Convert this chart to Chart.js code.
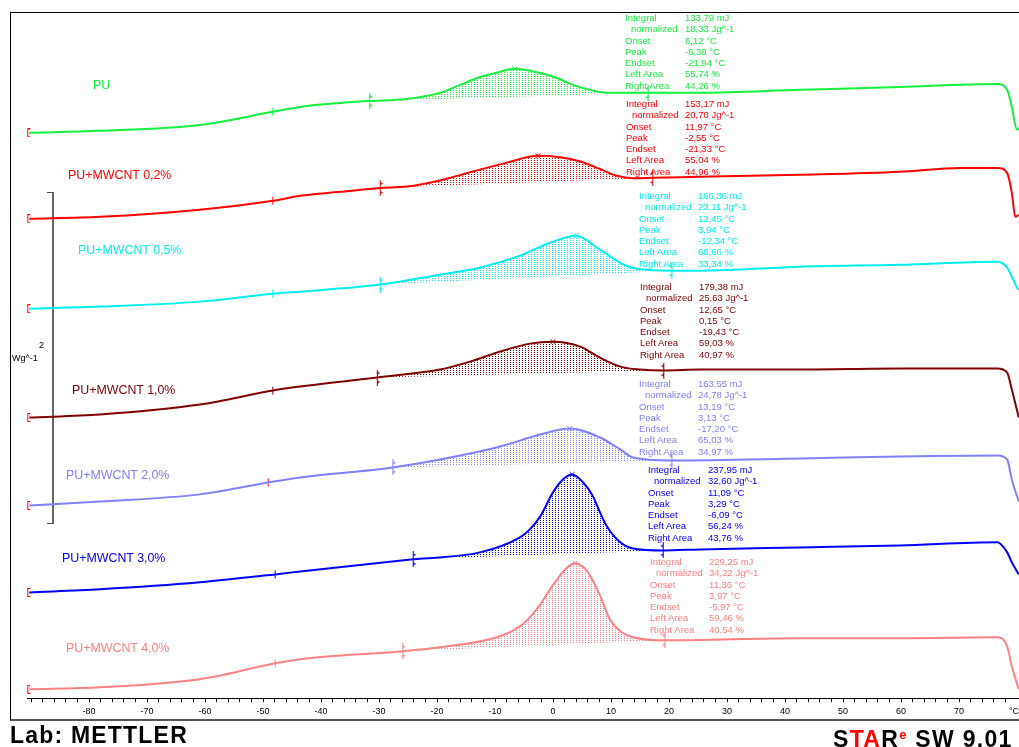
<!DOCTYPE html>
<html>
<head>
<meta charset="utf-8">
<script src="https://cdn.jsdelivr.net/npm/chart.js@4/dist/chart.umd.min.js"></script>
<style>
  body { margin: 0; background: #fff; width: 1019px; height: 747px; overflow: hidden; position: relative;
         font-family: "Liberation Sans", Arial, sans-serif; }
  #frame { position: absolute; left: 10px; top: 12px; width: 1015px; height: 706px;
           border-left: 1px solid #000; border-top: 1px solid #000; border-bottom: 2px solid #555; }
  #dsc { position: absolute; left: 0; top: 0; }
  .t { position: absolute; white-space: nowrap; }
  #scalebar { position: absolute; left: 47px; top: 192px; width: 5px; height: 330px;
              border-top: 1px solid #555; border-right: 2px solid #666; border-bottom: 1px solid #555; }
</style>
</head>
<body>
<div id="frame"></div>
<div id="scalebar"></div>
<canvas id="dsc" width="1019" height="747"></canvas>
<script>
'use strict';

// heat flow curves, [temperature °C, heat flow Wg^-1 incl. offset]
var pu = [[-90.3, 3.420], [-78.1, 3.432], [-60.9, 3.468], [-48.3, 3.547], [-43.6, 3.577], [-36.7, 3.601],
  [-31.6, 3.613], [-25.2, 3.625], [-19.5, 3.662], [-16.0, 3.710], [-12.6, 3.758], [-9.7, 3.784], [-6.6, 3.807],
  [-2.2, 3.782], [0.7, 3.752], [3.4, 3.710], [6.4, 3.680], [9.3, 3.663], [16.4, 3.662], [25.3, 3.662],
  [42.6, 3.680], [59.8, 3.698], [76.6, 3.716], [78.3, 3.680], [79.1, 3.577], [80.0, 3.438], [80.3, 3.450]];
var mw02 = [[-90.3, 2.900], [-78.1, 2.912], [-60.9, 2.955], [-48.3, 3.009], [-43.6, 3.039], [-36.7, 3.063],
  [-29.8, 3.086], [-25.2, 3.095], [-19.5, 3.132], [-13.8, 3.186], [-7.9, 3.240], [-2.6, 3.281], [1.2, 3.273],
  [4.7, 3.247], [8.1, 3.201], [11.0, 3.160], [13.8, 3.146], [17.2, 3.148], [25.3, 3.154], [42.6, 3.166],
  [59.8, 3.184], [70.2, 3.208], [76.6, 3.208], [78.3, 3.178], [79.1, 3.057], [79.7, 2.912], [80.3, 2.924]];
var mw05 = [[-90.3, 2.356], [-78.1, 2.369], [-60.9, 2.399], [-48.3, 2.447], [-43.6, 2.459], [-29.8, 2.502],
  [-19.5, 2.562], [-12.6, 2.604], [-5.7, 2.677], [-0.5, 2.755], [4.0, 2.798], [8.1, 2.713], [11.6, 2.634],
  [14.5, 2.598], [20.5, 2.586], [25.3, 2.586], [42.6, 2.610], [59.8, 2.622], [76.6, 2.640], [78.3, 2.604],
  [79.1, 2.550], [80.0, 2.483], [80.3, 2.471]];
var mw10 = [[-90.3, 1.698], [-78.1, 1.716], [-60.9, 1.776], [-48.3, 1.861], [-43.6, 1.885], [-30.3, 1.940],
  [-19.5, 1.988], [-14.3, 2.036], [-9.1, 2.097], [-4.0, 2.145], [0.0, 2.157], [4.7, 2.127], [8.1, 2.060],
  [11.6, 2.006], [15.0, 1.988], [19.1, 1.982], [25.3, 1.988], [42.6, 1.988], [59.8, 1.994], [76.6, 1.994],
  [78.3, 1.970], [79.1, 1.867], [80.3, 1.698]];
var mw20 = [[-90.3, 1.166], [-78.1, 1.190], [-60.9, 1.233], [-49.1, 1.305], [-43.6, 1.335], [-27.6, 1.396],
  [-19.5, 1.444], [-9.1, 1.523], [-2.2, 1.595], [2.9, 1.631], [8.1, 1.577], [11.6, 1.505], [13.8, 1.456],
  [20.5, 1.438], [42.6, 1.450], [59.8, 1.462], [76.6, 1.468], [78.3, 1.444], [79.1, 1.323], [80.3, 1.190]];
var mw30 = [[-90.3, 0.640], [-78.1, 0.659], [-60.9, 0.701], [-47.9, 0.749], [-43.6, 0.767], [-24.1, 0.840],
  [-12.6, 0.882], [-5.7, 0.973], [-4.0, 1.021], [-2.2, 1.100], [0.0, 1.245], [1.7, 1.323], [3.3, 1.353],
  [5.2, 1.305], [6.9, 1.221], [8.1, 1.124], [9.3, 1.039], [11.6, 0.943], [13.8, 0.906], [19.0, 0.894],
  [25.3, 0.900], [42.6, 0.912], [59.8, 0.924], [76.6, 0.943], [78.3, 0.882], [79.1, 0.822], [80.3, 0.749]];
var mw40 = [[-90.3, 0.054], [-78.1, 0.066], [-60.9, 0.115], [-47.9, 0.211], [-43.6, 0.236], [-25.9, 0.284],
  [-19.5, 0.308], [-9.1, 0.375], [-5.7, 0.435], [-4.0, 0.489], [-2.2, 0.568], [-0.5, 0.659], [2.1, 0.779],
  [3.8, 0.816], [5.9, 0.767], [8.1, 0.622], [9.8, 0.477], [11.6, 0.405], [13.8, 0.369], [19.3, 0.350],
  [42.6, 0.363], [59.8, 0.363], [76.6, 0.369], [78.3, 0.314], [79.1, 0.193], [80.3, 0.054]];

var curves = [pu, mw02, mw05, mw10, mw20, mw30, mw40];
var curveNames = ['PU', 'PU+MWCNT 0,2%', 'PU+MWCNT 0,5%', 'PU+MWCNT 1,0%', 'PU+MWCNT 2,0%', 'PU+MWCNT 3,0%', 'PU+MWCNT 4,0%'];
var curveColors = ['#14f03c', '#ff0000', '#00eeee', '#800000', '#8080ff', '#0000ff', '#ff8080'];

// integration limits, peaks and step marks (°C)
var limitLeft = [-31.6, -29.8, -29.8, -30.3, -27.6, -24.1, -25.9];
var limitRight = [16.4, 17.2, 20.5, 19.1, 20.5, 19.0, 19.3];
var peakAt = [-6.6, -2.6, 4.0, 0.0, 2.9, 3.3, 3.8];
var stepAt = [-48.3, -48.3, -48.3, -48.3, -49.1, -47.9, -47.9];

// evaluation results
var resultNames = ['Integral', 'normalized', 'Onset', 'Peak', 'Endset', 'Left Area', 'Right Area'];
var resultUnits = ['mJ', 'Jg^-1', '°C', '°C', '°C', '%', '%'];
var integral = ['133,79', '153,17', '166,36', '179,38', '163,55', '237,95', '229,25'];
var normalized = ['18,33', '20,70', '23,11', '25,63', '24,78', '32,60', '34,22'];
var onset = ['6,12', '11,97', '12,45', '12,65', '13,19', '11,09', '11,36'];
var peak = ['-6,39', '-2,55', '3,94', '0,15', '3,13', '3,29', '3,97'];
var endset = ['-21,94', '-21,33', '-12,34', '-19,43', '-17,20', '-6,09', '-5,97'];
var leftArea = ['55,74', '55,04', '66,66', '59,03', '65,03', '56,24', '59,46'];
var rightArea = ['44,26', '44,96', '33,34', '40,97', '34,97', '43,76', '40,54'];

var xLabels = [-80, -70, -60, -50, -40, -30, -20, -10, 0, 10, 20, 30, 40, 50, 60, 70];

// layout of the text blocks (px)
var namePos = [[93, 85], [68, 175], [78, 250], [72, 390], [66, 475], [62, 558], [66, 648]];
var boxPos = [[625, 685, 18], [626, 685, 104], [639, 698, 196], [640, 699, 287], [639, 698, 384], [648, 708, 470], [650, 709, 562]];

function valueAt(curve, t) {
  for (var i = 0; i < curve.length; i++) {
    if (curve[i][0] === t) return curve[i][1];
  }
  return null;
}

function pts(arr) {
  return arr.map(function(p) { return {x: p[0], y: p[1]}; });
}

function hatch(color) {
  var c = document.createElement('canvas');
  c.width = 3; c.height = 2;
  var g = c.getContext('2d');
  g.fillStyle = color;
  g.fillRect(0, 0, 1, 1);
  return g.createPattern(c, 'repeat');
}

function limitMark(color, dir) {
  var c = document.createElement('canvas');
  c.width = 9; c.height = 16;
  var g = c.getContext('2d');
  g.strokeStyle = color; g.fillStyle = color; g.lineWidth = 1;
  g.beginPath(); g.moveTo(4.5, 0); g.lineTo(4.5, 16); g.stroke();
  [2, 11].forEach(function(y) {
    g.beginPath();
    g.moveTo(4.5, y); g.lineTo(4.5 + 3 * dir, y + 1.5); g.lineTo(4.5, y + 3);
    g.closePath(); g.fill();
  });
  return c;
}

function bracketMark() {
  var c = document.createElement('canvas');
  c.width = 6; c.height = 9;
  var g = c.getContext('2d');
  g.fillStyle = '#ff0000';
  g.fillRect(1, 0, 1, 9);
  g.fillRect(1, 0, 3, 1);
  g.fillRect(1, 8, 3, 1);
  return c;
}

var datasets = [];
curves.forEach(function(curve, i) {
  var col = curveColors[i];
  var t0 = limitLeft[i], t1 = limitRight[i];
  datasets.push({
    data: pts(curve), borderColor: col, borderWidth: 2, pointRadius: 0,
    cubicInterpolationMode: 'monotone', fill: false
  });
  datasets.push({
    data: pts(curve.filter(function(p) { return p[0] >= t0 && p[0] <= t1; })),
    borderWidth: 0, borderColor: 'rgba(0,0,0,0)', pointRadius: 0,
    cubicInterpolationMode: 'monotone', fill: '+1', backgroundColor: hatch(col)
  });
  datasets.push({
    data: pts([[t0, valueAt(curve, t0)], [t1, valueAt(curve, t1)]]),
    borderWidth: 0, borderColor: 'rgba(0,0,0,0)', pointRadius: 0, fill: false
  });
});

var bracket = bracketMark();
datasets.push({
  data: curves.map(function(c) { return {x: c[0][0], y: c[0][1]}; }),
  showLine: false, pointStyle: bracket, pointRadius: 4
});
datasets.push({
  data: curves.map(function(c, i) { return {x: stepAt[i], y: valueAt(c, stepAt[i])}; }),
  showLine: false, pointStyle: 'line', rotation: 90, pointRadius: 4, pointBorderWidth: 1,
  pointBorderColor: curveColors.map(function(c, i) { return i === 4 ? '#ff0000' : c; })
});
datasets.push({
  data: curves.map(function(c, i) { return {x: peakAt[i], y: valueAt(c, peakAt[i])}; }),
  showLine: false, pointStyle: 'crossRot', pointRadius: 3.5, pointBorderWidth: 1,
  pointBorderColor: curveColors
});
datasets.push({
  data: curves.map(function(c, i) { return {x: limitLeft[i], y: valueAt(c, limitLeft[i])}; }),
  showLine: false, pointRadius: 5,
  pointStyle: curveColors.map(function(c) { return limitMark(c, 1); })
});
datasets.push({
  data: curves.map(function(c, i) { return {x: limitRight[i], y: valueAt(c, limitRight[i])}; }),
  showLine: false, pointRadius: 5,
  pointStyle: curveColors.map(function(c) { return limitMark(c, -1); })
});

var minorTicks = [];
for (var v = -90; v <= 78; v += 2) minorTicks.push(v);

Chart.defaults.font.family = '"Liberation Sans", Arial, sans-serif';

var chart = new Chart(document.getElementById('dsc').getContext('2d'), {
  type: 'line',
  data: { datasets: datasets },
  options: {
    responsive: false,
    animation: false,
    devicePixelRatio: 1,
    layout: { autoPadding: false, padding: { left: 27, right: 0, top: 13, bottom: 26 } },
    plugins: { legend: { display: false }, tooltip: { enabled: false } },
    scales: {
      x: {
        type: 'linear', min: -90.69, max: 80.34,
        afterBuildTicks: function(scale) {
          scale.ticks = minorTicks.map(function(t) { return {value: t}; });
        },
        ticks: {
          autoSkip: false, maxRotation: 0, padding: 4, color: '#000',
          font: { size: 9 },
          callback: function(value) { return xLabels.indexOf(value) >= 0 ? String(value) : ''; }
        },
        grid: { drawOnChartArea: false, tickLength: 4, color: '#000' },
        border: { color: '#000', width: 1 }
      },
      y: { display: false, min: 0, max: 4.145 }
    }
  }
});

// text: curve names, evaluation blocks, axis labels
function addText(txt, x, y, css) {
  var d = document.createElement('div');
  d.className = 't';
  d.textContent = txt;
  d.style.left = x + 'px';
  d.style.top = y + 'px';
  for (var k in css) d.style[k] = css[k];
  document.body.appendChild(d);
  return d;
}

curveNames.forEach(function(n, i) {
  addText(n, namePos[i][0], namePos[i][1] - 8, {fontSize: '12.4px', lineHeight: '16px', color: curveColors[i]});
});

var results = [integral, normalized, onset, peak, endset, leftArea, rightArea];
boxPos.forEach(function(b, i) {
  resultNames.forEach(function(n, r) {
    var y = b[2] + r * 11.25 - 6;
    var css = {fontSize: '9.5px', lineHeight: '12px', color: curveColors[i]};
    addText(n, b[0] + (r === 1 ? 6 : 0), y, css);
    addText(results[r][i] + ' ' + resultUnits[r], b[1], y, css);
  });
});

addText('°C', 1009, 705, {fontSize: '9px', lineHeight: '12px', color: '#000'});
addText('2', 39, 339, {fontSize: '9px', lineHeight: '12px', color: '#000'});
addText('Wg^-1', 12, 352, {fontSize: '9px', lineHeight: '12px', color: '#000'});
addText('Lab: METTLER', 10, 722, {fontSize: '23px', lineHeight: '26px', fontWeight: 'bold', letterSpacing: '1.2px', color: '#000'});
var star = addText('', 833, 722, {fontSize: '23px', lineHeight: '26px', fontWeight: 'bold', letterSpacing: '1.3px', color: '#000'});
star.innerHTML = 'S<span style="color:#ff0000">TA</span>R<sup style="color:#ff0000;font-size:13px;vertical-align:8px">e</sup> SW 9.01';
</script>
</body>
</html>
